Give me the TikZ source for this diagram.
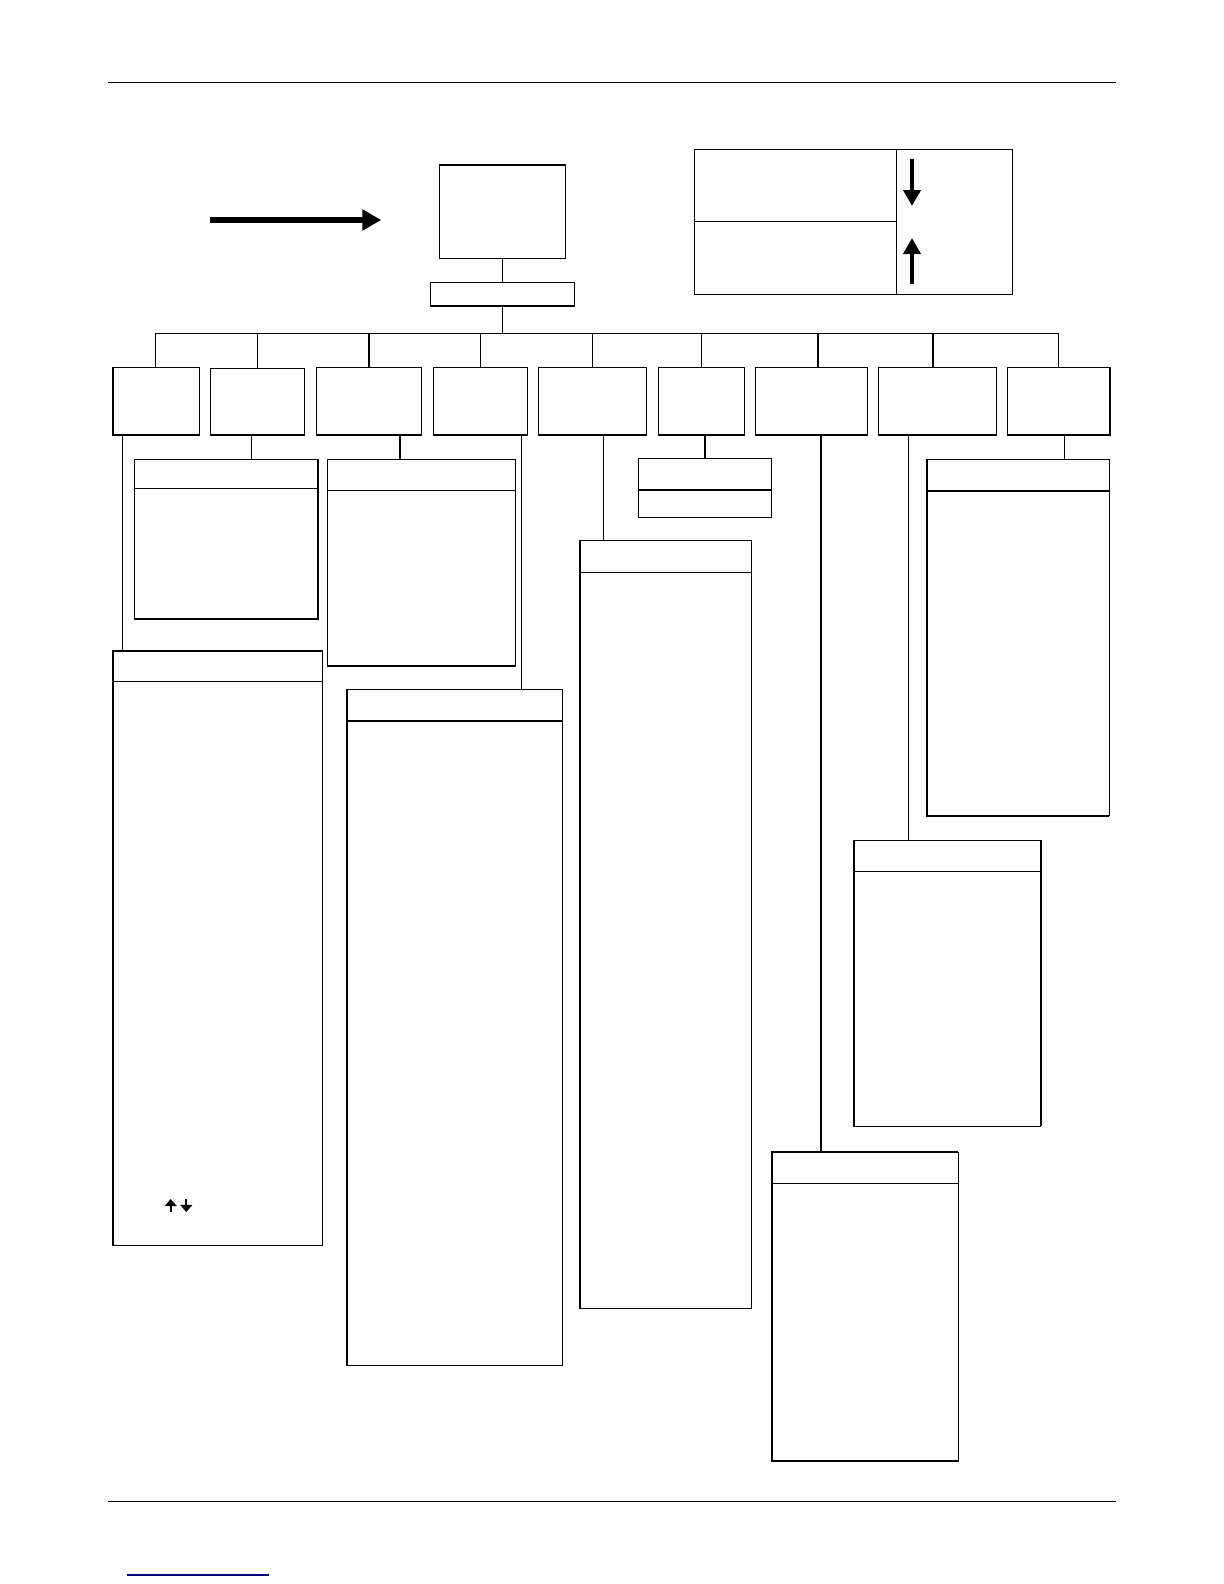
\documentclass[tikz,border=0pt]{standalone}
\usepackage{tikz}
\usetikzlibrary{arrows.meta, positioning}
\definecolor{linkblue}{RGB}{0,0,128}
\tikzset{
    block/.style={rectangle, draw, line width=0.55pt, inner sep=0pt, outer sep=0pt},
    link/.style={draw, line width=0.55pt},
    heavy/.style={draw, line width=1.05pt},
    rule/.style={draw, line width=0.65pt},
    bigarrow/.style={line width=3.2pt, -{Triangle[length=9.5pt, width=10pt]}},
    midarrow/.style={line width=1.9pt, -{Triangle[length=8pt, width=8.5pt]}},
    tinyarrow/.style={line width=1pt, -{Triangle[length=3.6pt, width=6pt]}}
}
\begin{document}
\begin{tikzpicture}[x=0.5pt, y=-0.5pt]
    \useasboundingbox (0,0) rectangle (1224,1584);

    % page rules
    \draw[rule] (108,82.5) -- (1116,82.5);
    \draw[rule] (108,1501.3) -- (1116,1501.3);
    \draw[line width=0.8pt, linkblue] (127,1575) -- (269,1575);

    % top of the tree
    \node[block, anchor=north west, minimum width=63.05pt, minimum height=46.85pt] (root) at (439.4,165) {};
    \node[block, minimum width=71.8pt, minimum height=12pt, below=11.8pt of root] (bar) {};
    \coordinate (bus) at (bar.south |- 0,333.3);

    % first level
    \node[block, anchor=south west, minimum width=43.35pt, minimum height=33.85pt] (a0) at (113,435) {};
    \node[block, minimum width=47.1pt, minimum height=33.35pt, right=5.5pt of a0.south east, anchor=south west] (a1) {};
    \node[block, minimum width=52.45pt, minimum height=33.85pt, right=5.65pt of a1.south east, anchor=south west] (a2) {};
    \node[block, minimum width=47pt, minimum height=33.85pt, right=6.05pt of a2.south east, anchor=south west] (a3) {};
    \node[block, minimum width=54.3pt, minimum height=33.85pt, right=5.55pt of a3.south east, anchor=south west] (a4) {};
    \node[block, minimum width=42.9pt, minimum height=33.85pt, right=5.8pt of a4.south east, anchor=south west] (a5) {};
    \node[block, minimum width=56pt, minimum height=33.85pt, right=5.55pt of a5.south east, anchor=south west] (a6) {};
    \node[block, minimum width=59.3pt, minimum height=33.85pt, right=5.35pt of a6.south east, anchor=south west] (a7) {};
    \node[block, minimum width=51.3pt, minimum height=33.85pt, right=5.35pt of a7.south east, anchor=south west] (a8) {};

    % cards, a head with its body below
    \node[block, anchor=north west, minimum width=104.8pt, minimum height=15.3pt] (c0h) at (112.7,651) {};
    \node[block, minimum width=104.8pt, minimum height=281.85pt, below=0pt of c0h] (c0) {};
    \node[block, anchor=north west, minimum width=92pt, minimum height=14.5pt] (c1h) at (134.3,459.3) {};
    \node[block, minimum width=92pt, minimum height=65.5pt, below=0pt of c1h] (c1) {};
    \node[block, anchor=north west, minimum width=94.2pt, minimum height=15.5pt] (c2h) at (327.3,459.3) {};
    \node[block, minimum width=94.2pt, minimum height=87.85pt, below=0pt of c2h] (c2) {};
    \node[block, anchor=north west, minimum width=108pt, minimum height=15.7pt] (c3h) at (346.7,689.3) {};
    \node[block, minimum width=108pt, minimum height=322.45pt, below=0pt of c3h] (c3) {};
    \node[block, anchor=north west, minimum width=85.65pt, minimum height=16pt] (c4h) at (580,540.3) {};
    \node[block, minimum width=85.65pt, minimum height=368.25pt, below=0pt of c4h] (c4) {};
    \node[block, anchor=north west, minimum width=66.5pt, minimum height=15.85pt] (c5h) at (638.7,458.3) {};
    \node[block, minimum width=66.5pt, minimum height=13.65pt, below=0pt of c5h] (c5) {};
    \node[block, anchor=north west, minimum width=93.15pt, minimum height=15.6pt] (c6h) at (772,1152.3) {};
    \node[block, minimum width=93.15pt, minimum height=138.9pt, below=0pt of c6h] (c6) {};
    \node[block, anchor=north west, minimum width=93.35pt, minimum height=15.5pt] (c7h) at (854,840.3) {};
    \node[block, minimum width=93.35pt, minimum height=127.5pt, below=0pt of c7h] (c7) {};
    \node[block, anchor=north west, minimum width=91.15pt, minimum height=15.85pt] (c8h) at (927,459.3) {};
    \node[block, minimum width=91.15pt, minimum height=162.35pt, below=0pt of c8h] (c8) {};

    % where the drops leave the first level
    \coordinate (d0) at (122.3,435);
    \coordinate (d1) at (251.3,435);
    \coordinate (d2) at (400,435);
    \coordinate (d3) at (521.3,435);
    \coordinate (d4) at (603.3,435);
    \coordinate (d5) at (705,435);
    \coordinate (d6) at (821,435);
    \coordinate (d7) at (908.3,435);
    \coordinate (d8) at (1064.3,435);
    \coordinate (e0) at (155.4,435);
    \coordinate (e6) at (818,435);
    \coordinate (e7) at (933,435);

    % tree lines
    \path[link] (root) -- (bar);
    \path[link] (bar) -- (bus);
    \path[draw, line width=0.7pt] (bus -| e0) -- (a8.north |- bus);
    \path[link] (a0.north -| e0) -- (bus -| e0);
    \path[link] (a1.north) -- (a1.north |- bus);
    \path[heavy] (a2.north) -- (a2.north |- bus);
    \path[link] (a3.north) -- (a3.north |- bus);
    \path[link] (a4.north) -- (a4.north |- bus);
    \path[link] (a5.north) -- (a5.north |- bus);
    \path[draw, line width=0.8pt] (a6.north -| e6) -- (bus -| e6);
    \path[draw, line width=0.8pt] (a7.north -| e7) -- (bus -| e7);
    \path[link] (a8.north) -- (a8.north |- bus);

    \path[link] (a0.south -| d0) -- (c0h.north -| d0);
    \path[link] (a1.south -| d1) -- (c1h.north -| d1);
    \path[heavy] (a2.south -| d2) -- (c2h.north -| d2);
    \path[link] (a3.south -| d3) -- (c3h.north -| d3);
    \path[link] (a4.south -| d4) -- (c4h.north -| d4);
    \path[heavy] (a5.south -| d5) -- (c5h.north -| d5);
    \path[heavy] (a6.south -| d6) -- (c6h.north -| d6);
    \path[link] (a7.south -| d7) -- (c7h.north -| d7);
    \path[link] (a8.south -| d8) -- (c8h.north -| d8);

    % heavier edges
    \path[heavy] (root.north west) -- (root.north east);
    \path[heavy] (bar.south west) -- (bar.south east);
    \path[heavy] (a0.south west) -- (a0.south east);
    \path[heavy] (a1.south west) -- (a1.south east);
    \path[heavy] (a2.south west) -- (a2.south east);
    \path[heavy] (a3.south west) -- (a3.south east);
    \path[heavy] (a4.south west) -- (a4.south east);
    \path[heavy] (a5.south west) -- (a5.south east);
    \path[heavy] (a6.south west) -- (a6.south east);
    \path[heavy] (a7.south west) -- (a7.south east);
    \path[heavy] (a8.south west) -- (a8.south east);
    \path[heavy] (c0h.north west) -- (c0.south west);
    \path[heavy] (c1h.north east) -- (c1.south east) -- (c1.south west);
    \path[heavy] (c2.south west) -- (c2.south east);
    \path[heavy] (c3h.north west) -- (c3.south west);
    \path[heavy] (c3h.south west) -- (c3h.south east);
    \path[heavy] (c4h.north west) -- (c4.south west);
    \path[heavy] (c5h.south west) -- (c5h.south east);
    \path[heavy] (c6h.north east) -- (c6h.north west) -- (c6.south west) -- (c6.south east);
    \path[heavy] (c7h.north west) -- (c7.south west);
    \path[heavy] (c7h.north east) -- (c7.south east);
    \path[heavy] (c8h.north west) -- (c8.south west) -- (c8.south east);
    \path[heavy] (c8h.south west) -- (c8h.south east);

    % key at the upper right
    \node[block, anchor=north west, minimum width=100.75pt, minimum height=36pt] (keytop) at (694.8,149.3) {};
    \node[block, minimum width=100.75pt, minimum height=36.5pt, below=0pt of keytop] (keybot) {};
    \node[block, anchor=north west, minimum width=58pt, minimum height=72.5pt] (keyside) at (keytop.north east) {};
    \coordinate (downa) at (912,159);
    \coordinate (downb) at (912,206);
    \coordinate (upa) at (912,284);
    \coordinate (upb) at (912,238);
    \draw[midarrow] (downa) -- (downb);
    \draw[midarrow] (upa) -- (upb);

    % big arrow towards the top box
    \coordinate (biga) at (210,220);
    \draw[bigarrow] (biga) -- (biga -| 381.4,0);

    % small arrows in the first card
    \coordinate (smup) at (170.7,1212);
    \coordinate (smdn) at (186.3,1199);
    \draw[tinyarrow] (smup) -- (170.7,1199);
    \draw[tinyarrow] (smdn) -- (186.3,1212);
\end{tikzpicture}
\end{document}
